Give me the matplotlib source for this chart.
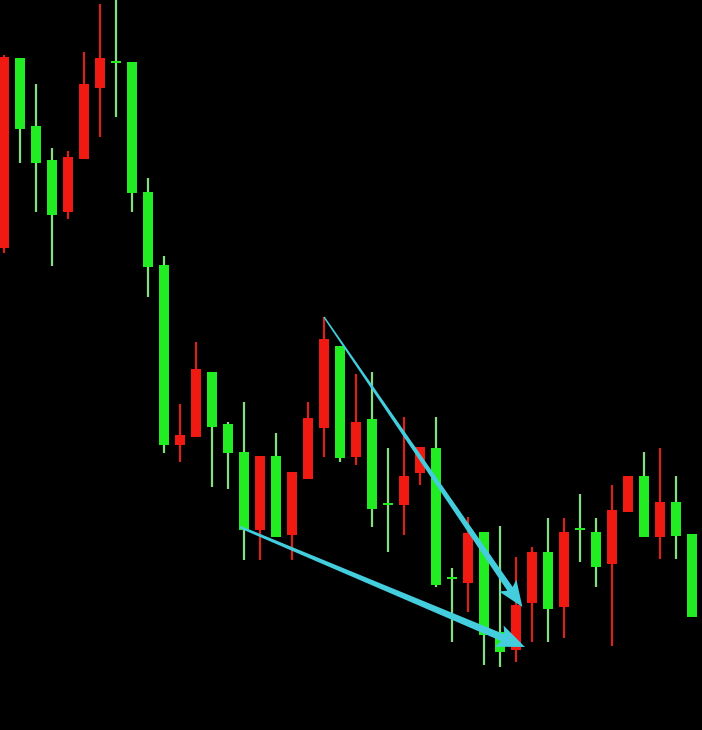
import matplotlib.pyplot as plt
import numpy as np
from matplotlib.patches import Polygon, Rectangle

# ---- candle data (price units, one candle per bar) ----
opens = [482, 672, 604, 570, 518, 571, 642, 668, 668, 538, 465, 285, 293, 358, 306,
         278, 200, 274, 195, 251, 302, 384, 273, 311, 226, 225, 257, 282, 152, 147,
         198, 98, 80, 127, 178, 123, 201, 198, 166, 218, 254, 193, 228, 196]
closes = [673, 601, 567, 515, 573, 646, 672, 668, 537, 463, 285, 295, 361, 303, 277,
          200, 274, 193, 258, 312, 391, 272, 308, 221, 226, 254, 283, 145, 152, 197,
          95, 78, 125, 178, 121, 198, 201, 163, 220, 254, 193, 228, 194, 113]
highs = [675, 672, 646, 582, 579, 678, 726, 735, 668, 552, 474, 326, 388, 358, 308,
         328, 274, 297, 258, 328, 413, 384, 356, 358, 282, 313, 283, 313, 162, 213,
         198, 204, 173, 183, 212, 212, 236, 212, 245, 254, 278, 282, 254, 196]
lows = [477, 567, 518, 464, 511, 571, 593, 613, 518, 433, 277, 268, 293, 243, 241,
        170, 170, 193, 170, 251, 273, 268, 265, 203, 178, 195, 245, 143, 88, 118,
        65, 63, 68, 88, 88, 92, 168, 143, 84, 218, 193, 171, 171, 113]

# arrows: (start bar, start price) -> (end bar, end price)
arrow_upper = ((20, 413), (32.4, 123))
arrow_lower = ((14.75, 203), (32.56, 83))

UP_COLOR = "#f01a12"
DOWN_COLOR = "#22ec22"
ARROW_COLOR = "#44cddd"

fig = plt.figure(figsize=(7.02, 7.30), dpi=100)
fig.patch.set_facecolor("black")
ax = fig.add_axes([0, 0, 1, 1])
ax.set_facecolor("black")
ax.set_xlim(-0.25, 43.625)
ax.set_ylim(0, 730)
ax.axis("off")

body_w = 0.62
for i, (o, c, h, l) in enumerate(zip(opens, closes, highs, lows)):
    color = UP_COLOR if c > o else DOWN_COLOR
    wick_color = "#d8231c" if c > o else "#86dc80"
    ax.vlines(i, l, h, color=wick_color, linewidth=1.6, zorder=1)
    bottom = min(o, c)
    height = max(abs(c - o), 2.5)
    if c == o:
        bottom -= 1.25
    ax.add_patch(Rectangle((i - body_w / 2, bottom), body_w, height,
                           facecolor=color, edgecolor="none", zorder=2))


# tapered arrow, geometry done in pixel space (16 px per bar, 1 px per price unit)
def tapered_arrow(ax, start, end, w0, w1, head_w, head_len, notch=4):
    def to_px(p):
        return np.array([4 + 16 * p[0], p[1]])

    def to_data(q):
        return ((q[0] - 4) / 16, q[1])

    a, b = to_px(start), to_px(end)
    d = b - a
    u = d / np.hypot(*d)
    n = np.array([-u[1], u[0]])
    neck = b - u * (head_len - notch)
    back = b - u * head_len
    pts = [
        a + n * w0 / 2,
        neck + n * w1 / 2,
        back + n * head_w / 2,
        b,
        back - n * head_w / 2,
        neck - n * w1 / 2,
        a - n * w0 / 2,
    ]
    ax.add_patch(Polygon([to_data(q) for q in pts], closed=True,
                         facecolor=ARROW_COLOR, edgecolor="none", zorder=5))


tapered_arrow(ax, *arrow_upper, w0=1.5, w1=6.5, head_w=21, head_len=26)
tapered_arrow(ax, *arrow_lower, w0=2.5, w1=7.5, head_w=23, head_len=28)

fig.savefig("out.png", dpi=100, facecolor="black")
